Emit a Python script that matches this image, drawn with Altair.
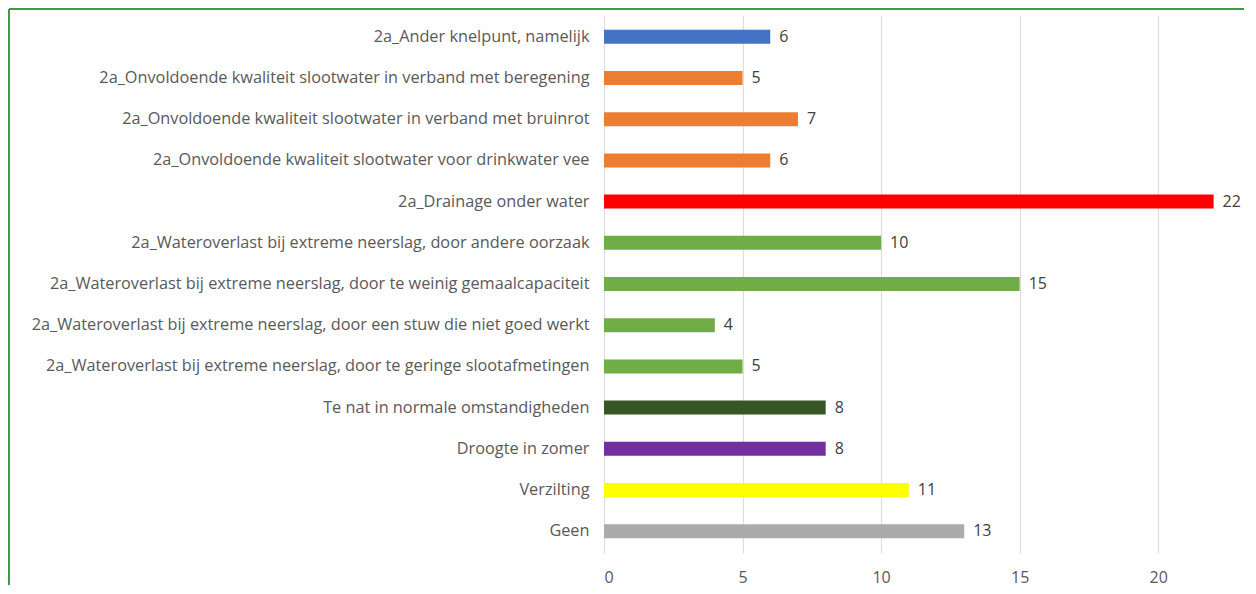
import altair as alt
import pandas as pd

categories = [
    "2a_Ander knelpunt, namelijk",
    "2a_Onvoldoende kwaliteit slootwater in verband met beregening",
    "2a_Onvoldoende kwaliteit slootwater in verband met bruinrot",
    "2a_Onvoldoende kwaliteit slootwater voor drinkwater vee",
    "2a_Drainage onder water",
    "2a_Wateroverlast bij extreme neerslag, door andere oorzaak",
    "2a_Wateroverlast bij extreme neerslag, door te weinig gemaalcapaciteit",
    "2a_Wateroverlast bij extreme neerslag, door een stuw die niet goed werkt",
    "2a_Wateroverlast bij extreme neerslag, door te geringe slootafmetingen",
    "Te nat in normale omstandigheden",
    "Droogte in zomer",
    "Verzilting",
    "Geen",
]
values = [6, 5, 7, 6, 22, 10, 15, 4, 5, 8, 8, 11, 13]
colors = ["#4472C4", "#ED7D31", "#ED7D31", "#ED7D31", "#FF0000", "#70AD47", "#70AD47",
          "#70AD47", "#70AD47", "#375623", "#7030A0", "#FFFF00", "#ADAAAA"]

df = pd.DataFrame({"cat": categories, "val": values, "col": colors})

FONT = "Open Sans"

y = alt.Y("cat:N", sort=categories, title=None,
          scale=alt.Scale(paddingInner=0.66, paddingOuter=0.36),
          axis=alt.Axis(domain=False, ticks=False, labelPadding=15, labelFont=FONT,
                        labelFontSize=16.3, labelColor="#595959", labelLimit=800))
x = alt.X("val:Q", title=None,
          scale=alt.Scale(domain=[0, 22.7], nice=False),
          axis=alt.Axis(values=[0, 5, 10, 15, 20], domain=False, ticks=False,
                        labelFont=FONT, labelFontSize=16, labelColor="#595959",
                        labelPadding=16, gridColor="#DDDDDD", gridWidth=1.2))

bars = alt.Chart(df).mark_bar(size=14).encode(
    y=y, x=x, color=alt.Color("col:N", scale=None)
)
labels = alt.Chart(df).mark_text(align="left", dx=9, font=FONT, fontSize=16,
                                  color="#404040").encode(
    y=alt.Y("cat:N", sort=categories), x="val:Q", text="val:Q"
)
border_top = alt.Chart(df).mark_rule(color="#3E9B3E", strokeWidth=2).encode(
    x=alt.value(-595), x2=alt.value(640), y=alt.value(-6)
)
border_left = alt.Chart(df).mark_rule(color="#3E9B3E", strokeWidth=2).encode(
    x=alt.value(-595), y=alt.value(-6), y2=alt.value(570)
)

chart = alt.layer(bars, labels, border_top, border_left).properties(
    width=629, height=538,
    padding={"left": 0, "top": 0, "right": 0, "bottom": 0},
).configure(background="white").configure_view(stroke=None)

chart.save("out.html", embed_options={"renderer": "svg", "actions": False})
